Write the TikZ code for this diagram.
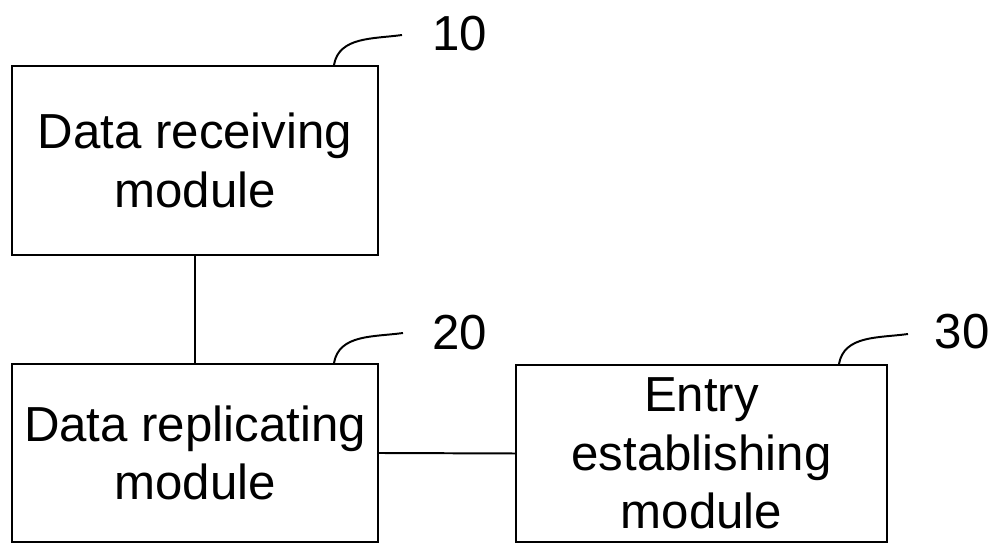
\documentclass[tikz,border=0pt]{standalone}
\usepackage{fontspec}
\setmainfont{Liberation Sans}

\begin{document}
\begin{tikzpicture}
\useasboundingbox (0,0) rectangle (25.025,13.575);
\begin{scope}[every node/.style={rectangle,draw,line width=1.4pt,align=center,inner sep=0pt,
                                 font=\fontsize{35}{41.5}\selectfont}]
    \node[minimum width=9.15cm,minimum height=4.725cm] (rcv) at (4.875,9.5625) {Data receiving\\module};
    \node[minimum width=9.15cm,minimum height=4.45cm] (rep) at (4.875,2.25) {Data replicating\\module};
    \node[minimum width=9.275cm,minimum height=4.425cm] (ent) at (17.5375,2.2375) {Entry\\establishing\\module};
\end{scope}
\begin{scope}[every node/.style={inner sep=0pt,font=\fontsize{35}{41.5}\selectfont}]
    \node (n10) at (11.5,12.725) {10};
    \node (n20) at (11.5,5.25) {20};
    \node (n30) at (24.05,5.275) {30};
\end{scope}
\coordinate (e10) at (10.05,12.7);
\coordinate (e20) at (10.075,5.25);
\coordinate (e30) at (22.7,5.225);
\begin{scope}[line width=1.4pt]
    \draw (rcv) -- (rep);
    \draw (rep.east) -- (ent.west);
    \draw ([xshift=-1.125cm]rcv.north east) to[out=80,in=188] (e10);
    \draw ([xshift=-1.125cm]rep.north east) to[out=80,in=188] (e20);
    \draw ([xshift=-1.225cm]ent.north east) to[out=80,in=188] (e30);
\end{scope}
\end{tikzpicture}
\end{document}
